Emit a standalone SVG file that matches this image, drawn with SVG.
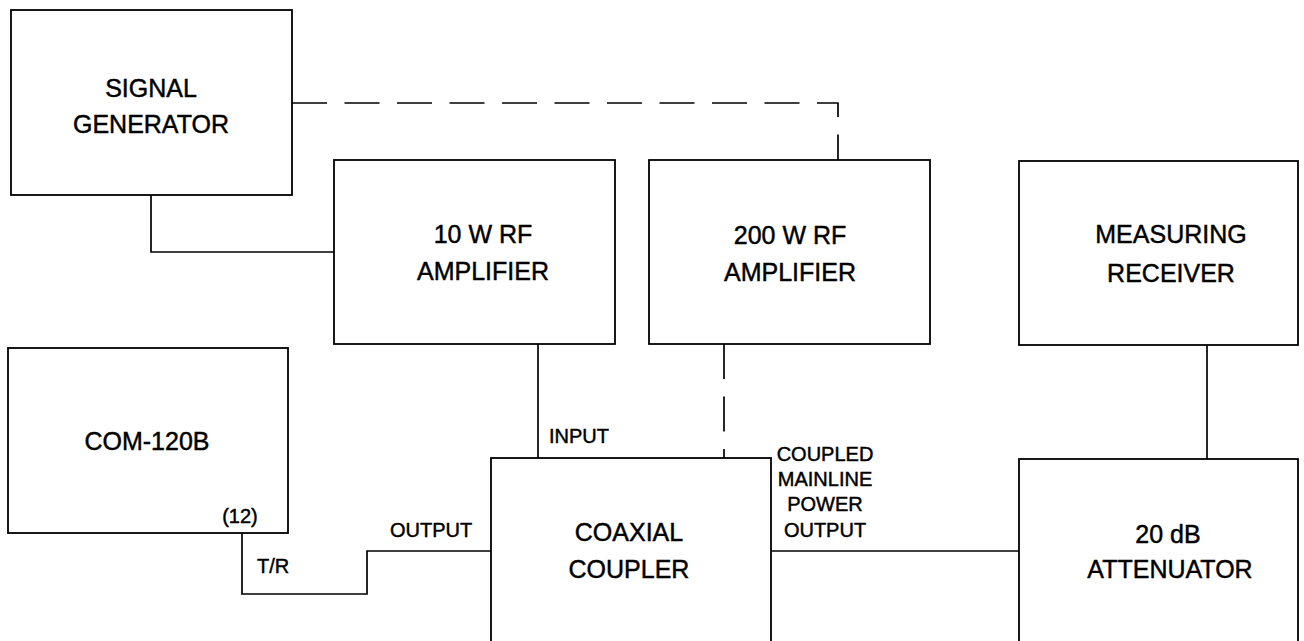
<svg xmlns="http://www.w3.org/2000/svg" width="1304" height="641" viewBox="0 0 1304 641">
<style>
.box{fill:#fff;stroke:#000;stroke-width:1.8}
.ln{fill:none;stroke:#000;stroke-width:1.7}
.dash{fill:none;stroke:#000;stroke-width:1.7;stroke-dasharray:35 17.5}
.t{font-family:"Liberation Sans",Arial,Helvetica,sans-serif;font-size:25px;fill:#000;stroke:#000;stroke-width:0.45;text-anchor:middle}
.s{font-family:"Liberation Sans",Arial,Helvetica,sans-serif;font-size:20px;fill:#000;stroke:#000;stroke-width:0.45}
</style>
<rect width="1304" height="641" fill="#fff"/>
<g id="connectors">
<path class="dash" d="M292,103 H838 V160"/>
<path class="dash" d="M724,344 V458"/>
<path class="ln" d="M151,195 V252 H334"/>
<path class="ln" d="M538,344 V458"/>
<path class="ln" d="M1207,345 V459"/>
<path class="ln" d="M771,551 H1019"/>
<path class="ln" d="M242,533 V594 H367 V551 H491"/>
</g>
<g id="signal-generator">
<rect class="box" x="11" y="10" width="281" height="185"/>
<text class="t" x="151" y="97">SIGNAL</text>
<text class="t" x="151" y="133">GENERATOR</text>
</g>
<g id="amp-10w">
<rect class="box" x="334" y="160" width="281" height="184"/>
<text class="t" x="483" y="243">10 W RF</text>
<text class="t" x="483" y="280">AMPLIFIER</text>
</g>
<g id="amp-200w">
<rect class="box" x="649" y="160" width="281" height="184"/>
<text class="t" x="790" y="244">200 W RF</text>
<text class="t" x="790" y="281">AMPLIFIER</text>
</g>
<g id="measuring-receiver">
<rect class="box" x="1019" y="161" width="279" height="184"/>
<text class="t" x="1171" y="243">MEASURING</text>
<text class="t" x="1171" y="282">RECEIVER</text>
</g>
<g id="com-120b">
<rect class="box" x="8" y="348" width="280" height="185"/>
<text class="t" x="147" y="450">COM-120B</text>
<text class="s" x="240" y="523" text-anchor="middle">(12)</text>
<text class="s" x="257" y="573">T/R</text>
</g>
<g id="coaxial-coupler">
<rect class="box" x="491" y="458" width="280" height="200"/>
<text class="t" x="629" y="541">COAXIAL</text>
<text class="t" x="629" y="578">COUPLER</text>
<text class="s" x="390" y="537">OUTPUT</text>
<text class="s" x="549" y="443">INPUT</text>
<text class="s" x="825" y="461" text-anchor="middle">COUPLED</text>
<text class="s" x="825" y="486" text-anchor="middle">MAINLINE</text>
<text class="s" x="825" y="511" text-anchor="middle">POWER</text>
<text class="s" x="825" y="537" text-anchor="middle">OUTPUT</text>
</g>
<g id="attenuator">
<rect class="box" x="1019" y="459" width="279" height="200"/>
<text class="t" x="1168" y="543">20 dB</text>
<text class="t" x="1170" y="578">ATTENUATOR</text>
</g>
</svg>
